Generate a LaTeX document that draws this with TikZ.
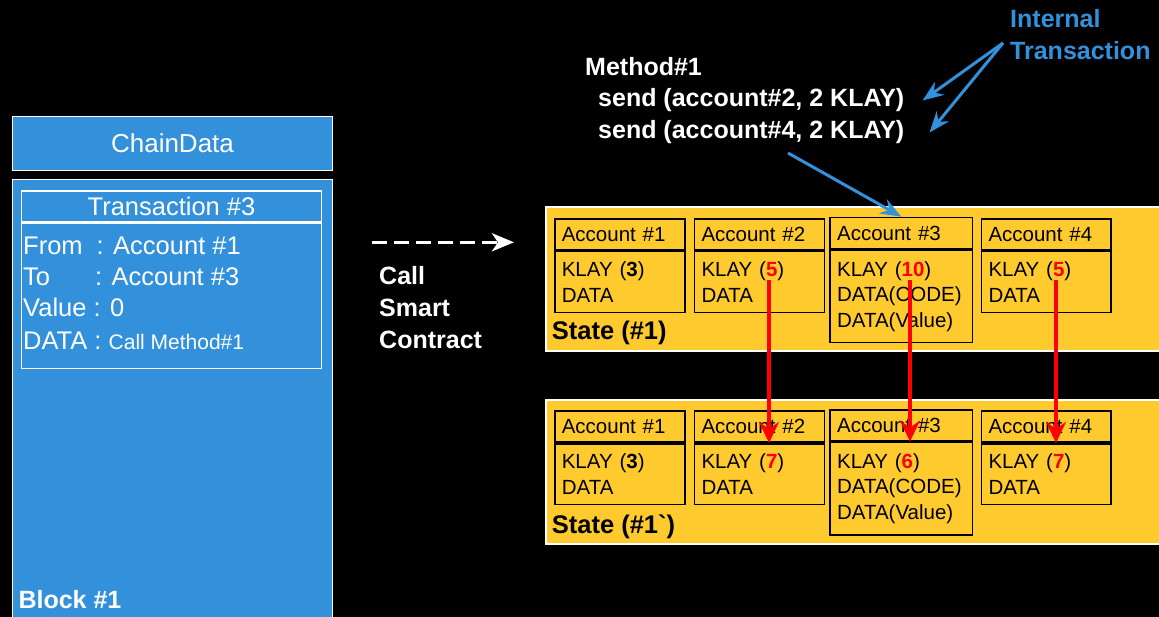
\documentclass[tikz,border=0pt]{standalone}
\usepackage{fontspec}
\setmainfont{Liberation Sans}
\usepackage{tikz}
\usetikzlibrary{arrows.meta}

\definecolor{chainblue}{RGB}{51,145,220}
\definecolor{stateyellow}{RGB}{255,202,46}
\newcommand{\fsz}[2]{\fontsize{#1pt}{#2pt}\selectfont}

\begin{document}
\begin{tikzpicture}[x=1pt, y=-1pt,
    box/.style={draw=white, line width=1.6pt},
    acchead/.style={draw=black, line width=1.6pt, anchor=north west, inner xsep=7pt, inner ysep=0pt,
        align=left, text width=116pt, minimum height=31pt, font=\fsz{20.5}{25.5}},
    accbody/.style={acchead, minimum height=60.7pt},
    lbl/.style={anchor=base west, inner sep=0pt},
    redarrow/.style={red, line width=3.5pt, -{Stealth[length=21pt,width=20pt,inset=7pt]}},
    bluearrow/.style={chainblue, line width=3pt, -{Stealth[length=21pt,width=16pt,inset=7pt]}}]
    % background
    \fill[black] (0,0) rectangle (1159,617);
    \useasboundingbox (0,0) rectangle (1159,617);

    % ChainData and Block #1
    \node[box, fill=chainblue, anchor=north west, minimum width=320pt, minimum height=54pt,
        text=white, font=\fsz{26}{30}] (chain) at (11.7,115.7) {ChainData};
    \node[box, fill=chainblue, anchor=north west, minimum width=320pt, minimum height=460pt] (blk) at (11.7,178.7) {};
    \node[lbl, white, font=\bfseries\fsz{25}{30}] (blklbl) at (18.3,608.3) {Block \#1};

    % Transaction #3
    \node[box, anchor=north west, minimum width=300pt, minimum height=30.7pt,
        text=white, font=\fsz{25.5}{30}] (txh) at (20.7,190) {Transaction \#3};
    \node[box, anchor=north west, minimum width=300pt, minimum height=145.3pt] (txb) at (txh.south west) {};
    \node[lbl, white, font=\fsz{25.5}{30}] (tfrom) at (23,255) {From\hspace{14pt}: Account \#1};
    \node[lbl, white, font=\fsz{25.5}{30}] (tto) at (23,286) {To\hspace{45pt}: Account \#3};
    \node[lbl, white, font=\fsz{25.5}{30}] (tval) at (23,317) {Value : 0};
    \node[lbl, white, font=\fsz{25.5}{30}] (tdata) at (23,349.5) {DATA : {\fsz{21}{25}Call Method\#1}};

    % call smart contract
    \coordinate (dsrc) at (371.7,242.3);
    \coordinate (ddst) at (514,242.3);
    \draw[white, line width=3.5pt, dash pattern=on 15pt off 7pt,
        -{Stealth[length=22pt,width=18pt,inset=6pt]}] (dsrc) -- (ddst);
    \node[white, font=\bfseries\fsz{25}{32}, align=left, anchor=north west, inner sep=0pt] (callsc)
        at (379,266) {Call\\Smart\\Contract};

    % State (#1)
    \node[box, fill=stateyellow, anchor=north west, minimum width=640pt, minimum height=144pt] (st1) at (545,206) {};
    \node[lbl, font=\bfseries\fsz{25.5}{30}] (st1lbl) at (551.7,340) {State (\#1)};
    \node[acchead] (a1h) at (554,218.3) {Account \#1};
    \node[accbody] (a1b) at (a1h.south west) {KLAY ({\bfseries 3})\\DATA};
    \node[acchead] (a2h) at (693.7,218.3) {Account \#2};
    \node[accbody] (a2b) at (a2h.south west) {KLAY ({\bfseries\color{red}5})\\DATA};
    \node[acchead, text width=128.5pt] (a3h) at (829.3,216.7) {Account \#3};
    \node[accbody, text width=128.5pt, minimum height=92.3pt] (a3b) at (a3h.south west)
        {KLAY ({\bfseries\color{red}10})\\DATA(CODE)\\DATA(Value)};
    \node[acchead, text width=115.5pt] (a4h) at (980.7,218.3) {Account \#4};
    \node[accbody, text width=115.5pt] (a4b) at (a4h.south west) {KLAY ({\bfseries\color{red}5})\\DATA};

    % State (#1`)
    \node[box, fill=stateyellow, anchor=north west, minimum width=640pt, minimum height=144.3pt] (st2) at (545,399) {};
    \node[lbl, font=\bfseries\fsz{25.5}{30}] (st2lbl) at (551.7,533) {State (\#1\textasciigrave)};
    \node[acchead] (b1h) at (554,410.3) {Account \#1};
    \node[accbody] (b1b) at (b1h.south west) {KLAY ({\bfseries 3})\\DATA};
    \node[acchead] (b2h) at (693.7,410.3) {Account \#2};
    \node[accbody] (b2b) at (b2h.south west) {KLAY ({\bfseries\color{red}7})\\DATA};
    \node[acchead, text width=128.5pt] (b3h) at (829.3,409) {Account \#3};
    \node[accbody, text width=128.5pt, minimum height=92.3pt] (b3b) at (b3h.south west)
        {KLAY ({\bfseries\color{red}6})\\DATA(CODE)\\DATA(Value)};
    \node[acchead, text width=115.5pt] (b4h) at (980.7,410.3) {Account \#4};
    \node[accbody, text width=115.5pt] (b4b) at (b4h.south west) {KLAY ({\bfseries\color{red}7})\\DATA};

    % balance changes
    \coordinate (r2) at (769,280);
    \coordinate (r3) at (910,280);
    \coordinate (r4) at (1056,280);
    \draw[redarrow] (r2) -- (r2 |- b2h.south);
    \draw[redarrow] (r3) -- (r3 |- b3h.south);
    \draw[redarrow] (r4) -- (r4 |- b4h.south);

    % Method#1
    \node[lbl, white, font=\bfseries\fsz{25}{30}] (meth) at (585,76) {Method\#1};
    \node[lbl, white, font=\bfseries\fsz{25}{30}] (snd1) at (598,107) {send (account\#2, 2 KLAY)};
    \node[lbl, white, font=\bfseries\fsz{25}{30}] (snd2) at (598,139) {send (account\#4, 2 KLAY)};
    \coordinate (callsrc) at (788,153);
    \draw[bluearrow] (callsrc) -- (a3h.north);

    % internal transaction
    \node[chainblue, font=\bfseries\fsz{25}{31.6}, align=left, anchor=north west, inner sep=0pt] (itx)
        at (1010,9.5) {Internal\\Transaction};
    \coordinate (itxsrc) at (1003,43);
    \draw[bluearrow] (itxsrc) -- ([xshift=18pt]snd1.east);
    \draw[bluearrow] (itxsrc) -- ([xshift=25pt]snd2.east);
\end{tikzpicture}
\end{document}
